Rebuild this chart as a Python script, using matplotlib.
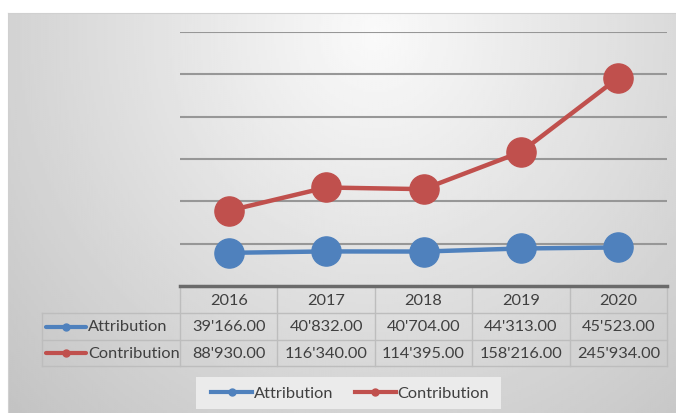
import matplotlib.pyplot as plt
import numpy as np
from matplotlib.lines import Line2D
from matplotlib.patches import Rectangle

years = ['2016', '2017', '2018', '2019', '2020']
attribution = [39166.00, 40832.00, 40704.00, 44313.00, 45523.00]
contribution = [88930.00, 116340.00, 114395.00, 158216.00, 245934.00]
series_names = ['Attribution', 'Contribution']
series_colors = ['#4F81BD', '#C0504D']


def fmt(v):
    # swiss style thousands separator
    return f"{v:,.2f}".replace(',', "'")


W, H = 676, 414
plt.rcParams['font.family'] = ['Lato', 'DejaVu Sans']
txt_c = '#404040'
fs = 11.8

fig = plt.figure(figsize=(W / 100, H / 100), dpi=100)
fig.patch.set_facecolor('white')

# grey radial gradient behind the whole chart
bg = fig.add_axes([8 / W, 0, 1 - 8 / W, 1 - 14 / H], zorder=0)
yy, xx = np.mgrid[0:1:200j, 0:1:300j]
d = np.sqrt(((xx - 0.55) / 0.72) ** 2 + ((yy - 0.05) / 1.25) ** 2)
shade = 0.98 - 0.20 * np.clip(d, 0, 1.1)
bg.imshow(shade, cmap='gray', vmin=0, vmax=1, aspect='auto', extent=(0, 1, 0, 1))
bg.set_xticks([])
bg.set_yticks([])
for s in ['right', 'bottom']:
    bg.spines[s].set_visible(False)
for s in ['top', 'left']:
    bg.spines[s].set_color('#D0D0D0')

# line chart
ax = fig.add_axes([180 / W, 1 - 287 / H, 487 / W, 254 / H], zorder=2)
ax.patch.set_alpha(0)
x = np.arange(len(years))
for vals, name, col in zip([attribution, contribution], series_names, series_colors):
    ax.plot(x, vals, color=col, lw=3.2, marker='o', ms=21, label=name, clip_on=False)
ax.set_xlim(-0.5, len(years) - 0.5)
ax.set_ylim(0, 300000)
ax.set_yticks(np.arange(50000, 300001, 50000))
ax.yaxis.grid(True, color='#979797', lw=1.5)
ax.set_axisbelow(True)
ax.tick_params(left=False, bottom=False, labelleft=False, labelbottom=False)
for s in ['top', 'right', 'left']:
    ax.spines[s].set_visible(False)
ax.spines['bottom'].set_color('#6A6A6A')
ax.spines['bottom'].set_linewidth(2.5)

# data table under the plot, drawn in pixel coords
tab = fig.add_axes([0, 0, 1, 1], zorder=1)
tab.set_xlim(0, W)
tab.set_ylim(H, 0)
tab.axis('off')
cols = np.linspace(180, 667, len(years) + 1)
rows_y = [287, 314, 341, 367]
grid_c = '#BDBDBD'
for yv in rows_y[1:]:
    tab.plot([42, 667], [yv, yv], color=grid_c, lw=1)
for xv in cols:
    tab.plot([xv, xv], [287, 367], color=grid_c, lw=1)
tab.plot([42, 42], [314, 367], color=grid_c, lw=1)

centers = (cols[:-1] + cols[1:]) / 2
for cx, yr in zip(centers, years):
    tab.text(cx, 301, yr, ha='center', va='center', fontsize=fs, color=txt_c)
for r, (vals, name, col) in enumerate(zip([attribution, contribution], series_names, series_colors)):
    cy = (rows_y[r + 1] + rows_y[r + 2]) / 2
    tab.plot([46, 86], [cy, cy], color=col, lw=3, solid_capstyle='round')
    tab.plot([66], [cy], 'o', color=col, ms=5)
    tab.text(88, cy, name, ha='left', va='center', fontsize=fs, color=txt_c)
    for cx, v in zip(centers, vals):
        tab.text(cx, cy, fmt(v), ha='center', va='center', fontsize=fs, color=txt_c)

# legend
tab.add_patch(Rectangle((196, 378), 305, 32, facecolor='#EBEBEB', edgecolor='none'))
handles = [Line2D([0], [0], color=c, lw=3, marker='o', ms=5) for c in series_colors]
leg = fig.legend(handles, series_names, loc='center', bbox_to_anchor=(350 / W, 1 - 394 / H),
                 ncol=2, frameon=False, fontsize=fs, handlelength=2.5,
                 handletextpad=0.1, columnspacing=1.3, labelcolor=txt_c)

fig.savefig('out.png', dpi=100)
